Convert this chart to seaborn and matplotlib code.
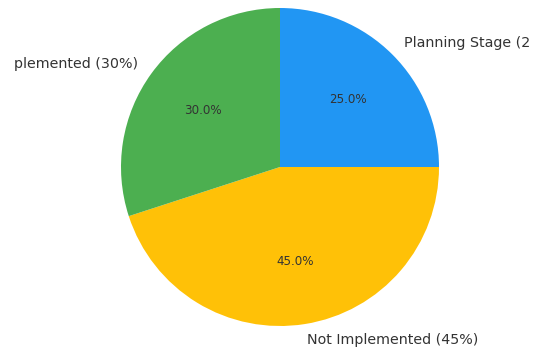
import matplotlib
matplotlib.use("Agg")
import matplotlib.pyplot as plt
from matplotlib.transforms import Bbox
import seaborn as sns

# Implementation status shares
labels = ["Planning Stage (25%)", "Not Implemented (45%)", "Implemented (30%)"]
shares = [25, 45, 30]
colors = ["#2196F3", "#FFC107", "#4CAF50"]

sns.set_style("white")
plt.rcParams['font.family'] = ['DejaVu Sans']

fig = plt.figure(figsize=(5.35, 3.47), dpi=100)
# square axes so the pie sits where the reference has it (labels spill off the edges)
ax = fig.add_axes([81.25 / 535, -18.75 / 347, 397.5 / 535, 397.5 / 347])

wedges, texts, autotexts = ax.pie(
    shares, labels=labels, colors=colors, autopct="%1.1f%%",
    startangle=90, counterclock=False,
    wedgeprops={"linewidth": 0},
    textprops={"color": "#333333", "fontsize": 10.3},
)
for t in autotexts:
    t.set_fontsize(8.6)

# the reference crops the side labels, keep the same visible window
clip = Bbox.from_extents(14.5, 0, 530, 347)
for t in texts:
    t.set_clip_box(clip)
    t.set_clip_on(True)

ax.set_xlim(-1.25, 1.25)
ax.set_ylim(-1.25, 1.25)
ax.set_aspect("equal")
ax.axis("off")

fig.savefig("out.png", dpi=100)
